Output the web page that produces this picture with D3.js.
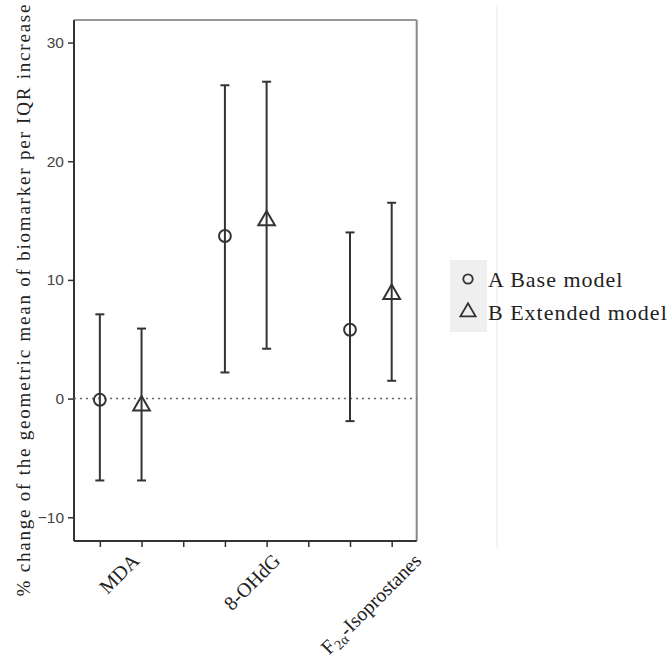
<!DOCTYPE html>
<html>
<head>
<meta charset="utf-8">
<script src="https://cdn.jsdelivr.net/npm/d3@7"></script>
<style>
  body { margin: 0; background: #fff; }
  svg { display: block; }
</style>
</head>
<body>
<div id="chart"></div>
<script>
// biomarkers and the two models
const categories = ["MDA", "8-OHdG", "F2α-Isoprostanes"];
const models = ["A Base model", "B Extended model"];

// % change estimates with 95% CI, one array per model (order = categories)
const baseEst   = [-0.1, 13.7, 5.8];
const baseLow   = [-6.9,  2.2, -1.9];
const baseHigh  = [ 7.1, 26.4, 14.0];
const extEst    = [-0.6, 15.0, 8.8];
const extLow    = [-6.9,  4.2,  1.5];
const extHigh   = [ 5.9, 26.7, 16.5];

const yTicks = [-10, 0, 10, 20, 30];

const SERIF = "'Liberation Serif', 'Times New Roman', serif";
const SANS = "'Liberation Sans', Arial, sans-serif";

const W = 672, H = 660;
const plot = { left: 74, right: 416.7, top: 20, bottom: 541 };

const svg = d3.select("#chart").append("svg")
    .attr("width", W)
    .attr("height", H);

// faint separator line on the right of the panel
svg.append("line")
    .attr("x1", 497).attr("x2", 497)
    .attr("y1", 5).attr("y2", 548)
    .attr("stroke", "#f0f0f0")
    .attr("stroke-width", 1.5);

// slots: each category gets two positions, with an empty slot between groups
const slotOf = (ci, mi) => ci * 3 + mi;
const x = d3.scaleLinear().domain([-0.62, 7.6]).range([plot.left, plot.right]);
const y = d3.scaleLinear().domain([-12, 31.9]).range([plot.bottom, plot.top]);

// box: top and right lighter
svg.append("line")
    .attr("x1", plot.left).attr("x2", plot.right)
    .attr("y1", plot.top).attr("y2", plot.top)
    .attr("stroke", "#777").attr("stroke-width", 1.5);
svg.append("line")
    .attr("x1", plot.right).attr("x2", plot.right)
    .attr("y1", plot.top).attr("y2", plot.bottom)
    .attr("stroke", "#888").attr("stroke-width", 2);

// y axis
const yAxis = svg.append("g")
    .attr("transform", `translate(${plot.left},0)`)
    .call(d3.axisLeft(y).tickValues(yTicks).tickSize(6).tickPadding(4));
yAxis.select(".domain").attr("stroke", "#333").attr("stroke-width", 2)
    .attr("d", `M0,${plot.top}V${plot.bottom}`);
yAxis.selectAll(".tick line").attr("stroke", "#333").attr("stroke-width", 1.5);
yAxis.selectAll(".tick text")
    .style("font-family", SANS)
    .style("font-size", "15.5px")
    .attr("fill", "#444");

// x axis (ticks only, labels drawn separately)
const xAxis = svg.append("g")
    .attr("transform", `translate(0,${plot.bottom})`)
    .call(d3.axisBottom(x).tickValues(d3.range(8)).tickSize(6).tickFormat(""));
xAxis.select(".domain").attr("stroke", "#333").attr("stroke-width", 2)
    .attr("d", `M${plot.left},0H${plot.right}`);
xAxis.selectAll(".tick line").attr("stroke", "#333").attr("stroke-width", 1.5);

// reference line at 0
svg.append("line")
    .attr("x1", plot.left).attr("x2", plot.right)
    .attr("y1", y(0)).attr("y2", y(0))
    .attr("stroke", "#666")
    .attr("stroke-width", 1.5)
    .attr("stroke-dasharray", "2,4");

// build rows
const rows = [];
categories.forEach((c, i) => {
    rows.push({ cat: c, model: 0, est: baseEst[i], lo: baseLow[i], hi: baseHigh[i], slot: slotOf(i, 0) });
    rows.push({ cat: c, model: 1, est: extEst[i], lo: extLow[i], hi: extHigh[i], slot: slotOf(i, 1) });
});

const capW = 4.5;
const bars = svg.append("g").selectAll("g")
    .data(rows).enter().append("g")
    .attr("stroke", "#333")
    .attr("stroke-width", 2);

bars.append("line")
    .attr("x1", d => x(d.slot)).attr("x2", d => x(d.slot))
    .attr("y1", d => y(d.lo)).attr("y2", d => y(d.hi));
bars.append("line")
    .attr("x1", d => x(d.slot) - capW).attr("x2", d => x(d.slot) + capW)
    .attr("y1", d => y(d.hi)).attr("y2", d => y(d.hi));
bars.append("line")
    .attr("x1", d => x(d.slot) - capW).attr("x2", d => x(d.slot) + capW)
    .attr("y1", d => y(d.lo)).attr("y2", d => y(d.lo));

const circleSym = d3.symbol().type(d3.symbolCircle).size(110);
const triSym = d3.symbol().type(d3.symbolTriangle).size(120);

bars.append("path")
    .attr("d", d => d.model === 0 ? circleSym() : triSym())
    .attr("transform", d => `translate(${x(d.slot)},${y(d.est)})`)
    .attr("fill", "none")
    .attr("stroke", "#333")
    .attr("stroke-width", 2);

// category labels, rotated
const labelX = d3.scalePoint().domain(categories).range([x(1) - 1, x(1) + 281]);
const labels = svg.append("g").selectAll("text")
    .data(categories).enter().append("text")
    .attr("transform", d => `translate(${labelX(d)},${plot.bottom + 21}) rotate(-45)`)
    .attr("text-anchor", "end")
    .style("font-family", SERIF)
    .style("font-size", "20px")
    .attr("fill", "#222");
labels.each(function(d) {
    const t = d3.select(this);
    if (d.startsWith("F2α")) {
        t.append("tspan").text("F");
        t.append("tspan").style("font-size", "14px").attr("dy", 4).text("2α");
        t.append("tspan").attr("dy", -4).text(d.slice(3));
    } else {
        t.text(d);
    }
});

// y axis title
svg.append("text")
    .attr("transform", `translate(30,${(plot.top + plot.bottom) / 2 + 20}) rotate(-90)`)
    .attr("text-anchor", "middle")
    .style("font-family", SERIF)
    .style("font-size", "19px")
    .attr("fill", "#222")
    .attr("textLength", 592)
    .attr("lengthAdjust", "spacing")
    .text("% change of the geometric mean of biomarker per IQR increase");

// legend
const legend = svg.append("g");
legend.append("rect")
    .attr("x", 450).attr("y", 260)
    .attr("width", 37).attr("height", 72)
    .attr("fill", "#efefef");
const items = legend.selectAll("g.item")
    .data(models).enter().append("g")
    .attr("class", "item")
    .attr("transform", (d, i) => `translate(468,${279 + i * 33})`);
items.append("path")
    .attr("d", (d, i) => i === 0 ? d3.symbol().type(d3.symbolCircle).size(70)() : d3.symbol().type(d3.symbolTriangle).size(100)())
    .attr("fill", "none")
    .attr("stroke", "#333")
    .attr("stroke-width", 1.8);
items.append("text")
    .attr("x", 20)
    .attr("y", 8)
    .style("font-family", SERIF)
    .style("font-size", "22px")
    .style("letter-spacing", "1px")
    .attr("fill", "#222")
    .text(d => d);
</script>
</body>
</html>
